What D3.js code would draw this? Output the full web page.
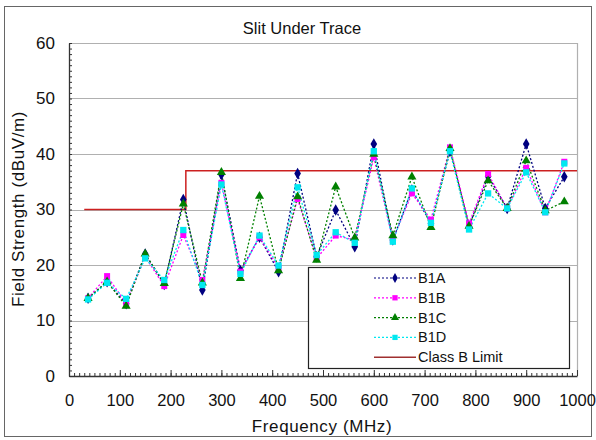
<!DOCTYPE html>
<html>
<head>
<meta charset="utf-8">
<script src="https://cdn.jsdelivr.net/npm/d3@7"></script>
<style>
  body { margin: 0; background: #fff; }
  svg { font-family: "Liberation Sans", Arial, sans-serif; }
</style>
</head>
<body>
<svg id="chart"></svg>
<script>
// frequencies (MHz)
const freqs = [37.5, 75, 112.5, 150, 187.5, 225, 262.5, 300, 337.5, 375, 412.5, 450, 487.5,
               525, 562.5, 600, 637.5, 675, 712.5, 750, 787.5, 825, 862.5, 900, 937.5, 975];

const b1a = [14, 17, 13, 22, 16.5, 31.8, 15.5, 36.3, 19, 25, 18.8, 36.5, 21.5,
             29.9, 23.3, 41.8, 24.5, 33.5, 27.5, 40.5, 27, 36, 30.2, 41.8, 30.2, 35.9];
const b1b = [14, 18, 13.1, 21.5, 16.2, 25.4, 17.3, 34.8, 18.8, 25, 19.5, 31.9, 21.2,
             25.3, 24.5, 39.4, 24.5, 32.9, 28.2, 41.2, 27.5, 36.4, 30.2, 37.5, 29.5, 38.6];
const b1c = [14, 17, 12.6, 22, 16.7, 31, 16.8, 36.7, 17.6, 32.4, 19, 32.3, 20.9,
             34.1, 24.9, 40, 25.3, 35.9, 26.8, 41, 27, 35.2, 30.2, 38.8, 29.8, 31.4];
const b1d = [13.8, 16.8, 13.9, 21.2, 17.3, 26.3, 16.4, 34.5, 18.4, 25.3, 19.9, 34, 21.8,
             25.9, 24, 40.5, 24.2, 33.8, 27.6, 40.5, 26.4, 32.9, 30.2, 36.7, 29.5, 38.3];

// Class B limit (step)
const limitFreqs = [30, 230, 230, 1000];
const limitVals = [30, 30, 37, 37];

const xTicks = [0, 100, 200, 300, 400, 500, 600, 700, 800, 900, 1000];
const yTicks = [0, 10, 20, 30, 40, 50, 60];

const series = [
  { name: "B1A", values: b1a, color: "#000080", symbol: d3.symbolDiamond, size: 38 },
  { name: "B1B", values: b1b, color: "#ff00ff", symbol: d3.symbolSquare, size: 36 },
  { name: "B1C", values: b1c, color: "#008000", symbol: d3.symbolTriangle, size: 36 },
  { name: "B1D", values: b1d, color: "#00e8f0", symbol: d3.symbolSquare, size: 40 }
];

const width = 596, height = 440;
const margin = { left: 69, right: 19, top: 43, bottom: 64 };
const plotW = width - margin.left - margin.right;
const plotH = height - margin.top - margin.bottom;

const svg = d3.select("#chart").attr("width", width).attr("height", height);

// outer frame
svg.append("rect")
  .attr("x", 4.5).attr("y", 6.5).attr("width", 587).attr("height", 430)
  .attr("fill", "#fff").attr("stroke", "#666").attr("stroke-width", 1);

const x = d3.scaleLinear().domain([0, 1000]).range([0, plotW]);
const y = d3.scaleLinear().domain([0, 60]).range([plotH, 0]);

const g = svg.append("g").attr("transform", `translate(${margin.left},${margin.top})`);

// horizontal gridlines
g.append("g")
  .selectAll("line")
  .data(yTicks.filter(d => d > 0))
  .enter()
  .append("line")
  .attr("x1", 0).attr("x2", plotW)
  .attr("y1", d => Math.round(y(d)) + 0.5).attr("y2", d => Math.round(y(d)) + 0.5)
  .attr("stroke", "#b0b0b0").attr("stroke-width", 1.2);

// plot border on the right
g.append("line")
  .attr("x1", plotW + 0.5).attr("x2", plotW + 0.5).attr("y1", 0).attr("y2", plotH)
  .attr("stroke", "#b0b0b0").attr("stroke-width", 1.2);

// Class B limit line
const limitData = limitFreqs.map((f, i) => [f, limitVals[i]]);
g.append("path")
  .datum(limitData)
  .attr("fill", "none")
  .attr("stroke", "#cc2020")
  .attr("stroke-width", 1.5)
  .attr("d", d3.line().x(d => x(d[0])).y(d => y(d[1])));

// series lines
const line = d3.line().x((d, i) => x(freqs[i])).y(d => y(d));
series.forEach(s => {
  g.append("path")
    .datum(s.values)
    .attr("fill", "none")
    .attr("stroke", s.color)
    .attr("stroke-width", 1.3)
    .attr("stroke-dasharray", "2,2")
    .attr("d", line);
});

// markers
series.forEach(s => {
  g.append("g")
    .selectAll("path")
    .data(s.values)
    .enter()
    .append("path")
    .attr("transform", (d, i) => `translate(${x(freqs[i])},${y(d)})`)
    .attr("d", d3.symbol().type(s.symbol).size(s.size))
    .attr("fill", s.color);
});

// y axis: minor ticks, then major
g.append("g")
  .call(d3.axisLeft(y).ticks(60).tickSize(-3).tickFormat(""))
  .call(a => a.select(".domain").remove())
  .selectAll("line").attr("stroke", "#333");
const yAxis = g.append("g")
  .call(d3.axisLeft(y).tickValues(yTicks).tickSize(0).tickPadding(14).tickFormat(d3.format("d")));
yAxis.select(".domain").attr("stroke", "#333").attr("stroke-width", 1.3);
yAxis.selectAll("text").attr("font-size", 17).attr("fill", "#111");

// x axis: minor ticks, then major
g.append("g")
  .attr("transform", `translate(0,${plotH})`)
  .call(d3.axisBottom(x).ticks(100).tickSize(-3).tickFormat(""))
  .call(a => a.select(".domain").remove())
  .selectAll("line").attr("stroke", "#333");
const xAxis = g.append("g")
  .attr("transform", `translate(0,${plotH})`)
  .call(d3.axisBottom(x).tickValues(xTicks).tickSizeInner(-6).tickSizeOuter(0)
    .tickPadding(18).tickFormat(d3.format("d")));
xAxis.select(".domain").attr("stroke", "#333").attr("stroke-width", 1.3);
xAxis.selectAll("line").attr("stroke", "#333");
xAxis.selectAll("text").attr("font-size", 16.5).attr("fill", "#111");

// title
svg.append("text")
  .attr("x", 302).attr("y", 34)
  .attr("text-anchor", "middle")
  .attr("font-size", 16.5)
  .attr("fill", "#111")
  .text("Slit Under Trace");

// axis titles
svg.append("text")
  .attr("x", 322).attr("y", 432)
  .attr("text-anchor", "middle")
  .attr("font-size", 17)
  .attr("letter-spacing", 0.6)
  .attr("fill", "#111")
  .text("Frequency (MHz)");

svg.append("text")
  .attr("transform", "translate(24,209) rotate(-90)")
  .attr("text-anchor", "middle")
  .attr("font-size", 17)
  .attr("letter-spacing", 0.6)
  .attr("fill", "#111")
  .text("Field Strength (dBuV/m)");

// legend
const legend = svg.append("g").attr("transform", "translate(308,267)");
legend.append("rect")
  .attr("x", 0.5).attr("y", 0.5).attr("width", 261).attr("height", 101)
  .attr("fill", "#fff").attr("stroke", "#222").attr("stroke-width", 1.2);

const legendItems = series.map(s => ({ name: s.name, color: s.color, symbol: s.symbol, size: 28, dashed: true }))
  .concat([{ name: "Class B Limit", color: "#a03030", symbol: null, dashed: false }]);

const item = legend.selectAll(".item")
  .data(legendItems)
  .enter()
  .append("g")
  .attr("class", "item")
  .attr("transform", (d, i) => `translate(0,${11 + i * 19.8})`);

item.append("line")
  .attr("x1", 66).attr("x2", 108)
  .attr("stroke", d => d.color)
  .attr("stroke-width", d => d.dashed ? 1.2 : 1.4)
  .attr("stroke-dasharray", d => d.dashed ? "2,2" : null);

item.filter(d => d.symbol)
  .append("path")
  .attr("transform", "translate(87,0)")
  .attr("d", d => d3.symbol().type(d.symbol).size(d.size)())
  .attr("fill", d => d.color);

item.append("text")
  .attr("x", 110).attr("y", 0)
  .attr("dy", "0.35em")
  .attr("font-size", 14.5)
  .attr("fill", "#111")
  .text(d => d.name);
</script>
</body>
</html>
